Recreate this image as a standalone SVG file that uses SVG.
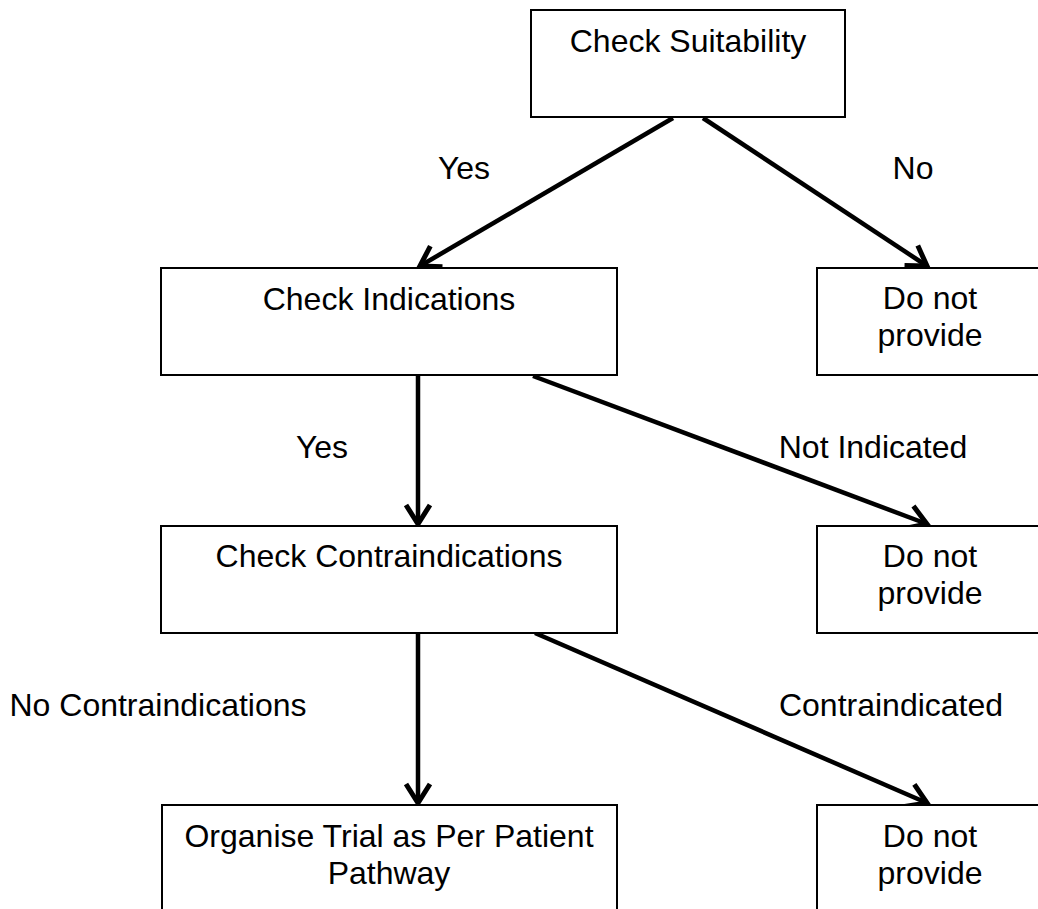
<svg xmlns="http://www.w3.org/2000/svg" width="1038" height="909" viewBox="0 0 1038 909">
<style>
.box{fill:#fff;stroke:#000;stroke-width:2}
.t{font-family:"Liberation Sans",Arial,sans-serif;font-size:32px;fill:#000;text-anchor:middle}
.c{stroke:#000;stroke-width:4.5;fill:none}
</style>
<defs>
<marker id="ah" viewBox="-26 -17 30 34" refX="0" refY="0" markerWidth="30" markerHeight="34" markerUnits="userSpaceOnUse" orient="auto">
<path d="M-19,-12 L0,0 L-19,12" fill="none" stroke="#000" stroke-width="5" stroke-linejoin="miter"/>
</marker>
</defs>
<rect width="1038" height="909" fill="#fff"/>
<g id="connectors">
<line class="c" x1="673" y1="118" x2="420" y2="266" marker-end="url(#ah)"/>
<line class="c" x1="703" y1="118" x2="927" y2="266" marker-end="url(#ah)"/>
<line class="c" x1="418" y1="376" x2="418" y2="524" marker-end="url(#ah)"/>
<line class="c" x1="533" y1="376" x2="927" y2="524" marker-end="url(#ah)"/>
<line class="c" x1="418" y1="633" x2="418" y2="803" marker-end="url(#ah)"/>
<line class="c" x1="535" y1="633" x2="927" y2="803" marker-end="url(#ah)"/>
<text class="t" x="464" y="179">Yes</text>
<text class="t" x="913" y="179">No</text>
<text class="t" x="322" y="458">Yes</text>
<text class="t" x="873" y="458">Not Indicated</text>
<text class="t" x="158" y="716">No Contraindications</text>
<text class="t" x="891" y="716">Contraindicated</text>
</g>
<g id="n-suitability">
<rect class="box" x="531" y="10" width="314" height="107"/>
<text class="t" x="688" y="52">Check Suitability</text>
</g>
<g id="n-indications">
<rect class="box" x="161" y="268" width="456" height="107"/>
<text class="t" x="389" y="310">Check Indications</text>
</g>
<g id="n-dnp1">
<rect class="box" x="817" y="268" width="230" height="107"/>
<text class="t" x="930" y="309">Do not</text>
<text class="t" x="930" y="346">provide</text>
</g>
<g id="n-contra">
<rect class="box" x="161" y="526" width="456" height="107"/>
<text class="t" x="389" y="567">Check Contraindications</text>
</g>
<g id="n-dnp2">
<rect class="box" x="817" y="526" width="230" height="107"/>
<text class="t" x="930" y="567">Do not</text>
<text class="t" x="930" y="604">provide</text>
</g>
<g id="n-organise">
<rect class="box" x="162" y="805" width="455" height="120"/>
<text class="t" x="389" y="847">Organise Trial as Per Patient</text>
<text class="t" x="389" y="884">Pathway</text>
</g>
<g id="n-dnp3">
<rect class="box" x="817" y="805" width="230" height="120"/>
<text class="t" x="930" y="847">Do not</text>
<text class="t" x="930" y="884">provide</text>
</g>
</svg>
